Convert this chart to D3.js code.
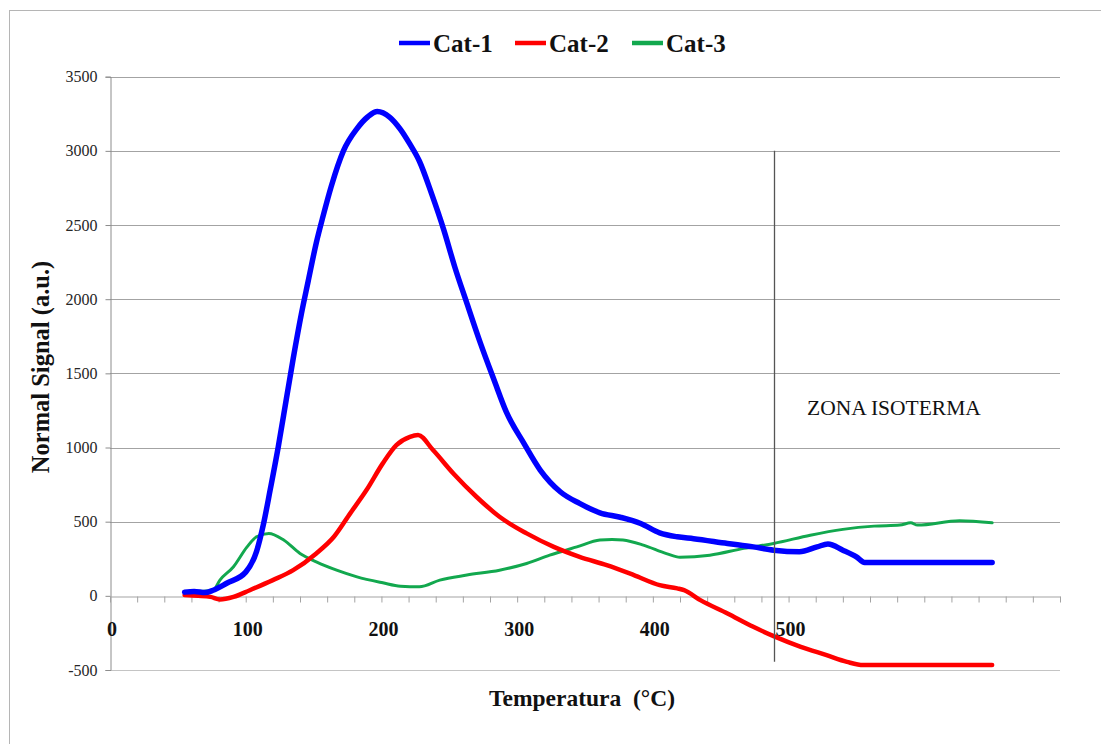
<!doctype html>
<html lang="es">
<head>
	<meta charset="utf-8">
	<title>Normal Signal vs Temperatura</title>
	<script src="https://cdn.jsdelivr.net/npm/d3@7"></script>
	<style>
		body { margin: 0; background: #fff; }
		svg text { font-family: "Liberation Serif", "DejaVu Serif", "Noto Serif", "Times New Roman", serif !important; }
	</style>
</head>
<body>
	<div id="svg"></div>

	<script>
		// series: temperature (°C) and signal (a.u.)
		var cat1T = [55, 62, 70, 76, 86, 100, 108, 113, 118, 124, 130, 135, 141, 146, 152, 157, 163, 172, 182, 190, 197, 206, 214, 221, 228, 237, 246, 254, 263, 273, 283, 292, 305, 317, 332, 346, 361, 376, 391, 405, 418, 430, 455, 474, 489, 508, 521, 529, 540, 550, 556, 600, 650];
		var cat1V = [25, 30, 22, 38, 85, 160, 300, 480, 713, 1005, 1330, 1600, 1900, 2120, 2380, 2560, 2760, 3000, 3150, 3230, 3265, 3228, 3145, 3045, 2930, 2710, 2466, 2219, 1972, 1702, 1455, 1240, 1028, 848, 700, 623, 560, 530, 488, 425, 398, 385, 353, 330, 308, 297, 330, 349, 308, 263, 225, 225, 225];

		var cat2T = [55, 65, 74, 81, 91, 103, 120, 135, 152, 165, 177, 189, 201, 211, 221, 227, 238, 253, 270, 287, 307, 327, 346, 366, 386, 405, 418, 423, 435, 455, 474, 489, 509, 528, 543, 555, 600, 650];
		var cat2V = [5, 0, -7, -24, -7, 38, 106, 173, 286, 398, 556, 713, 893, 1016, 1072, 1084, 983, 825, 668, 533, 421, 330, 263, 207, 140, 72, 50, 38, -29, -119, -209, -272, -344, -400, -445, -467, -467, -467];

		var cat3T = [60, 76, 81, 91, 101, 108, 117, 128, 140, 152, 167, 182, 201, 214, 228, 243, 263, 287, 307, 324, 344, 361, 370, 378, 393, 410, 420, 442, 467, 489, 516, 540, 563, 582, 590, 595, 626, 650];
		var cat3V = [27, 38, 106, 196, 330, 398, 421, 376, 286, 229, 173, 128, 88, 65, 61, 106, 140, 173, 218, 274, 330, 376, 380, 376, 342, 285, 260, 274, 320, 353, 409, 448, 470, 477, 492, 477, 506, 492];

		var seriesNames = ["Cat-1", "Cat-2", "Cat-3"];
		var seriesColors = ["#0000ff", "#ff0000", "#12a84e"];
		var seriesWidths = [5.5, 4.5, 3];

		var yTicks = [-500, 0, 500, 1000, 1500, 2000, 2500, 3000, 3500];
		var xMinorTicks = d3.range(0, 701, 20);
		var xTickLabels = [0, 100, 200, 300, 400, 500];

		// isothermal marker
		var isoTemp = 489;
		var isoTop = 3000, isoBottom = -445;

		var widthSvg = 1101, heightSvg = 744;
		var serif = "'Liberation Serif', 'DejaVu Serif', 'Noto Serif', serif";

		var svg = d3.select("#svg").append("svg")
			.attr("width", widthSvg).attr("height", heightSvg)
			.attr("font-family", serif);

		svg.append("rect")
			.attr("x", 9.5).attr("y", 10.5)
			.attr("width", 1100).attr("height", 745)
			.attr("fill", "#fff").attr("stroke", "#b5b5b5");

		var xScale = d3.scaleLinear().domain([0, 700]).range([110, 1060]);
		var yScale = d3.scaleLinear().domain([-500, 3500]).range([670, 76.7]);

		// gridlines
		svg.append("g").selectAll("line")
			.data(yTicks.filter(function(d) { return d != 0; }))
			.enter().append("line")
			.attr("x1", xScale(0)).attr("x2", xScale(700))
			.attr("y1", function(d) { return Math.round(yScale(d)) + 0.5; })
			.attr("y2", function(d) { return Math.round(yScale(d)) + 0.5; })
			.attr("stroke", function(d) { return d == -500 ? "#c4c4c4" : "#a3a3a3"; })
			.attr("stroke-width", 1.2);

		// y axis
		var yAxis = svg.append("g")
			.attr("transform", "translate(" + (xScale(0) + 0.5) + ",0)")
			.call(d3.axisLeft(yScale).tickValues(yTicks).tickSize(5).tickPadding(8)
				.tickFormat(function(d) { return String(d); }));
		yAxis.attr("font-family", serif);
		yAxis.select(".domain").attr("stroke", "#8c8c8c");
		yAxis.selectAll(".tick line").attr("stroke", "#8c8c8c");
		yAxis.selectAll(".tick text")
			.attr("font-size", 16).attr("fill", "#262626");

		// x axis line at zero with small ticks every 20
		var xAxis = svg.append("g")
			.attr("transform", "translate(0," + (Math.round(yScale(0)) + 0.5) + ")")
			.call(d3.axisBottom(xScale).tickValues(xMinorTicks).tickSize(6).tickSizeOuter(0).tickFormat(""));
		xAxis.select(".domain").attr("stroke", "#a3a3a3").attr("stroke-width", 1.2);
		xAxis.selectAll(".tick line").attr("stroke", "#a3a3a3");

		svg.append("g").selectAll("text")
			.data(xTickLabels)
			.enter().append("text")
			.attr("x", function(d) { return xScale(d) + 2; })
			.attr("y", 636)
			.attr("text-anchor", "middle")
			.attr("font-size", 20).attr("font-weight", "bold")
			.attr("fill", "#111")
			.text(function(d) { return d; });

		// data lines
		var line = d3.line()
			.x(function(d) { return xScale(d[0]); })
			.y(function(d) { return yScale(d[1]); })
			.curve(d3.curveMonotoneX);

		var allSeries = [
			d3.zip(cat3T, cat3V),
			d3.zip(cat2T, cat2V),
			d3.zip(cat1T, cat1V)
		];
		var order = [2, 1, 0];

		svg.append("g").selectAll("path")
			.data(allSeries)
			.enter().append("path")
			.attr("d", line)
			.attr("fill", "none")
			.attr("stroke", function(d, i) { return seriesColors[order[i]]; })
			.attr("stroke-width", function(d, i) { return seriesWidths[order[i]]; })
			.attr("stroke-linejoin", "round")
			.attr("stroke-linecap", "round");

		// vertical line for isothermal zone
		svg.append("line")
			.attr("x1", Math.round(xScale(isoTemp)) + 0.5).attr("x2", Math.round(xScale(isoTemp)) + 0.5)
			.attr("y1", yScale(isoTop)).attr("y2", yScale(isoBottom))
			.attr("stroke", "#555").attr("stroke-width", 1.3);

		svg.append("text")
			.attr("x", 807).attr("y", 415)
			.attr("font-size", 21.5).attr("fill", "#111")
			.text("ZONA ISOTERMA");

		// legend
		var legendX = [399, 515, 632];
		var legend = svg.append("g").selectAll("g")
			.data(seriesNames)
			.enter().append("g")
			.attr("transform", function(d, i) { return "translate(" + legendX[i] + ",43)"; });
		legend.append("line")
			.attr("x1", 0).attr("x2", 31)
			.attr("stroke", function(d, i) { return seriesColors[i]; })
			.attr("stroke-width", 4.5);
		legend.append("text")
			.attr("x", 34).attr("y", 9)
			.attr("font-size", 25).attr("font-weight", "bold")
			.attr("fill", "#111")
			.text(function(d) { return d; });

		// axis titles
		svg.append("text")
			.attr("transform", "translate(49,367) rotate(-90)")
			.attr("text-anchor", "middle")
			.attr("font-size", 24.5).attr("font-weight", "bold")
			.attr("fill", "#111")
			.text("Normal Signal (a.u.)");

		svg.append("text")
			.attr("x", 582).attr("y", 706)
			.attr("text-anchor", "middle")
			.attr("font-size", 23.5).attr("font-weight", "bold")
			.attr("fill", "#111")
			.style("white-space", "pre")
			.text("Temperatura  (°C)");
	</script>
</body>
</html>
